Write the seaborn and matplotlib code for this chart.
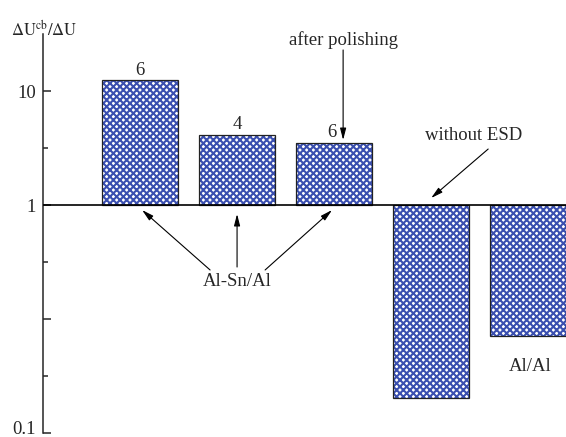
import numpy as np
import matplotlib
matplotlib.use("Agg")
import matplotlib.pyplot as plt
import matplotlib.transforms as mtransforms
import seaborn as sns

# ratio dU^cb / dU for each sample (bars start at 1)
samples = ["Al-Sn/Al a", "Al-Sn/Al b", "Al-Sn/Al polished", "Al/Al no ESD", "Al/Al"]
ratios = [12.4, 4.1, 3.5, 0.143, 0.265]
counts = ["6", "4", "6", "", ""]

# y tick values and labels
major_vals = [10, 1, 0.316, 0.1]
major_labels = ["10", "1", "", "0.1"]
minor_vals = [3.16, 0.562, 0.178]


def to_axis(v):
    # the original axis stretches the decade below 1 to twice the height
    v = np.asarray(v, dtype=float)
    return np.where(v >= 1, np.log10(v), 2 * np.log10(v))


sns.set_style("ticks")
plt.rcParams["font.family"] = ["Liberation Serif", "DejaVu Serif"]
plt.rcParams["mathtext.fontset"] = "stix"
plt.rcParams["hatch.linewidth"] = 1.5

BLUE = "#3a4fb0"
FS = 13.5

fig = plt.figure(figsize=(5.66, 4.37), dpi=100)
ax = fig.add_axes([43 / 566, 4 / 437, 523 / 566, 399 / 437])

heights = to_axis(ratios)
sns.barplot(x=samples, y=heights, ax=ax, color="white", width=0.79,
            hatch="xxxxx", edgecolor=BLUE, linewidth=0, saturation=1)
ax.bar(range(len(samples)), heights, width=0.79, fill=False,
       edgecolor="#222222", linewidth=0.9)

ax.axhline(0, color="black", lw=1.2, zorder=5)

ax.set_xlim(-1.0, 4.39)
ax.set_ylim(-2, 1.5)
ax.set_xticks([])
ax.set_xlabel("")
ax.set_ylabel("")
ax.set_yticks(to_axis(major_vals), major_labels)
ax.set_yticks(to_axis(minor_vals), minor=True)
ax.tick_params(axis="y", which="major", direction="in", length=6, width=1.1,
               labelsize=FS, pad=5)
ax.tick_params(axis="y", which="minor", direction="in", length=3.5, width=1.1)
for s in ["top", "right", "bottom"]:
    ax.spines[s].set_visible(False)
ax.spines["left"].set_linewidth(1.1)

# lift the bottom "0.1" label a little so it stays inside the figure
lbl = ax.get_yticklabels()[-1]
lbl.set_transform(lbl.get_transform() +
                  mtransforms.ScaledTranslation(0, 0.06, fig.dpi_scale_trans))

ax.text(-0.99, 1.54, r"$\Delta\mathrm{U}^{\mathrm{cb}}/\Delta\mathrm{U}$",
        fontsize=12, ha="center", va="center", clip_on=False)

# counts above the first three bars
for i, c in enumerate(counts):
    if c:
        ax.text(i - 0.02 if i == 2 else i, heights[i] + 0.09, c, fontsize=FS,
                ha="center", va="center")

arrow = dict(arrowstyle="-|>,head_width=0.18,head_length=0.7", color="black",
             lw=0.8, shrinkA=0, shrinkB=0)


def arr(x0, y0, x1, y1):
    ax.annotate("", xy=(x1, y1), xytext=(x0, y0), arrowprops=arrow)


ax.text(2.093, 1.45, "after polishing", fontsize=FS, ha="center", va="center")
arr(2.093, 1.36, 2.093, 0.57)

ax.text(3.44, 0.614, "without ESD", fontsize=FS, ha="center", va="center")
arr(3.588, 0.491, 3.0, 0.061)

ax.text(1.0, -0.675, "Al-Sn/Al", fontsize=FS, ha="center", va="center")
arr(0.722, -0.570, 0.021, -0.044)
arr(1.0, -0.544, 1.0, -0.079)
arr(1.289, -0.570, 1.979, -0.044)

ax.text(4.02, -1.42, "Al/Al", fontsize=FS, ha="center", va="center")

fig.savefig("out.png", dpi=100)
